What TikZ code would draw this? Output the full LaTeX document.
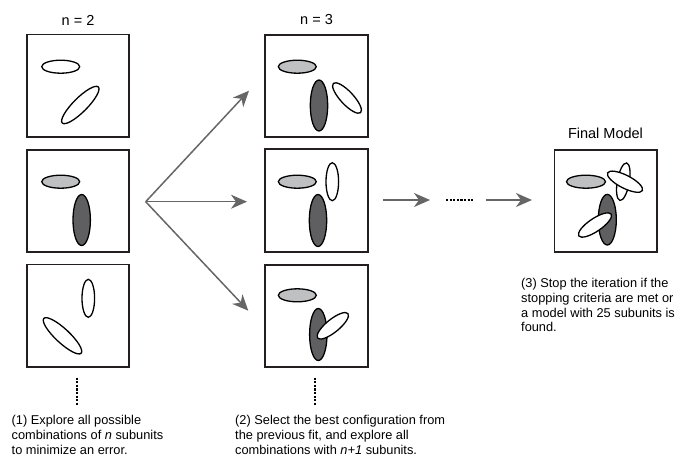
\documentclass[tikz,border=0pt]{standalone}
\usepackage{fontspec}
\setmainfont{Liberation Sans}
\usetikzlibrary{arrows.meta}
\definecolor{lgray}{HTML}{BEC0C2}
\definecolor{dgray}{HTML}{5F5F61}
\definecolor{agray}{HTML}{666666}
\definecolor{bline}{HTML}{231F20}
\begin{document}
\begin{tikzpicture}[x=1pt,y=-1pt,
  box/.style={draw=bline,line width=1.8pt,minimum size=102.5pt,inner sep=0pt},
  sub/.style={draw=black,line width=1.3pt},
  wsub/.style={sub,fill=white},
  gsub/.style={sub,fill=lgray},
  dsub/.style={sub,fill=dgray},
  flow/.style={draw=agray,line width=1.5pt,-{Stealth[length=16pt,width=14pt,inset=5pt]}},
  dotline/.style={line width=2.5pt,dash pattern=on 2.2pt off 1.4pt},
  titletxt/.style={font=\fontsize{14.5}{17}\selectfont,inner sep=0pt},
  captxt/.style={font=\fontsize{12.8}{14.8}\selectfont,align=left,anchor=north west,inner sep=0pt}
]
\useasboundingbox (0,0) rectangle (694,459);
\newcommand{\subu}[6]{\path[#6,shift={(#1,#2)},rotate=#5] (0,0) ellipse (#3 and #4);}

% boxes
\node[box] (L1) at (78,85.7) {};
\node[box] (L2) at (78,201) {};
\node[box] (L3) at (78,315.7) {};
\node[box] (M1) at (316.5,86) {};
\node[box] (M2) at (316.5,200.5) {};
\node[box] (M3) at (316.5,316) {};
\node[box] (F) at (605.7,201) {};

% titles
\node[titletxt] (t2) at (78,20) {n = 2};
\node[titletxt] (t3) at (316.5,20) {n = 3};
\node[titletxt] (tf) at (605.5,133) {Final Model};

% left column subunits
\subu{60.7}{66.7}{19}{6.5}{0}{wsub}
\subu{80.3}{105}{25.5}{7}{45}{wsub}
\subu{60.7}{181.7}{19}{6.5}{0}{gsub}
\subu{81.7}{220}{8.7}{25.5}{0}{dsub}
\subu{88.3}{298.3}{6.3}{19}{0}{wsub}
\subu{62.5}{335.8}{25.5}{7}{-43}{wsub}

% middle column subunits
\subu{297.3}{66.7}{19}{6.5}{0}{gsub}
\subu{319}{105.5}{8.7}{25.5}{0}{dsub}
\subu{347}{98}{20}{6.5}{-47}{wsub}
\subu{297.3}{181.7}{19}{6.5}{0}{gsub}
\subu{332.3}{181.7}{6.3}{19}{0}{wsub}
\subu{318}{220.5}{8.7}{26}{0}{dsub}
\subu{297.3}{295.3}{19}{6.5}{0}{gsub}
\subu{318.3}{334.5}{8.7}{26}{0}{dsub}
\subu{332.8}{325.8}{19.5}{6.5}{39}{wsub}

% final model subunits
\subu{586}{181.7}{19.5}{6.5}{0}{gsub}
\subu{623.3}{181.7}{19}{6}{80}{wsub}
\subu{625}{181.7}{19.5}{6.5}{-27}{wsub}
\subu{607.3}{219.7}{9}{25.3}{0}{dsub}
\subu{595}{225}{19.5}{6.5}{34}{wsub}

% fan of arrows
\coordinate (fan) at (145.7,201.7);
\coordinate (a1) at (249,90.7);
\coordinate (a2) at (247,201.7);
\coordinate (a3) at (248.3,310.7);
\draw[flow] (fan) -- (a1);
\draw[flow] (fan) -- (a2);
\draw[flow] (fan) -- (a3);

% iteration arrows
\coordinate (r1s) at (383,200);
\coordinate (r1e) at (430,200);
\coordinate (ds) at (446,200);
\coordinate (de) at (474,200);
\coordinate (r2s) at (486,200);
\coordinate (r2e) at (532,200);
\draw[flow] (r1s) -- (r1e);
\draw[dotline] (ds) -- (de);
\draw[flow] (r2s) -- (r2e);

% vertical dots
\coordinate (lv1) at (77,377.5);
\coordinate (lv2) at (77,406);
\coordinate (mv1) at (315,377.5);
\coordinate (mv2) at (315,406);
\draw[dotline] (lv1) -- (lv2);
\draw[dotline] (mv1) -- (mv2);

% captions
\node[captxt] (c1) at (11.5,415) {(1) Explore all possible\\combinations of \emph{n} subunits\\to minimize an error.};
\node[captxt] (c2) at (235,415) {(2) Select the best configuration from\\the previous fit, and explore all\\combinations with \emph{n+1} subunits.};
\node[captxt] (c3) at (521,278) {(3) Stop the iteration if the\\stopping criteria are met or\\a model with 25 subunits is\\found.};
\end{tikzpicture}
\end{document}
